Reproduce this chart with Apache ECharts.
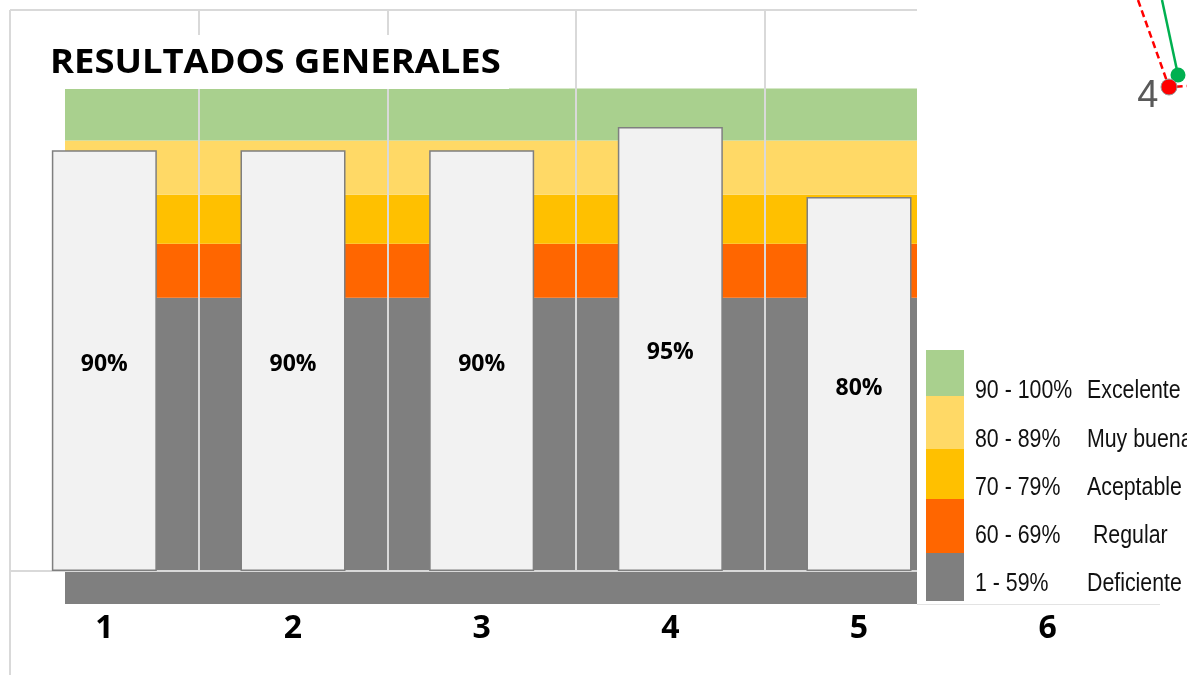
<!DOCTYPE html>
<html><head><meta charset="utf-8">
<script src="https://cdn.jsdelivr.net/npm/echarts@6/dist/echarts.min.js"></script>
<style>html,body{margin:0;padding:0;background:#fff}#c{width:1187px;height:675px}</style>
</head><body><div id="c"></div>
<script>
// ---- data ----
const categories = ['1', '2', '3', '4', '5', '6'];
const scores = [90, 90, 90, 95, 80, null];
const bandNames = ['Deficiente', ' Regular', 'Aceptable', 'Muy buena', 'Excelente'];
const bandRanges = ['1 - 59%', '60 - 69%', '70 - 79%', '80 - 89%', '90 - 100%'];
const bandColors = ['#7f7f7f', '#ff6600', '#ffc000', '#ffd966', '#a9d08e'];
const bandEdges = [-7, 58.5, 70, 80.5, 92.1, 103.2]; // background band limits (% scale)
const titleText = 'RESULTADOS GENERALES';
const strayGreen = [[42, 100], [58, 25]];
const strayRed = [[18, 100], [49, 13], [67, 14]];
const strayLabel = '4';

// ---- layout (legend picture) ----
const legendSeg = [ {y: 553, h: 48}, {y: 499, h: 54}, {y: 449, h: 50}, {y: 396, h: 53}, {y: 350, h: 46} ];
const legendTextY = [584, 536, 488, 440, 391];

const chart = echarts.init(document.getElementById('c'));

const bandSeries = [];
bandSeries.push({ type: 'bar', xAxisIndex: 1, yAxisIndex: 1, stack: 'band', barWidth: '100%', silent: true, z: 2,
  itemStyle: { color: bandColors[0] }, data: [bandEdges[0]] });
bandSeries.push({ type: 'bar', xAxisIndex: 1, yAxisIndex: 1, stack: 'band', barWidth: '100%', silent: true, z: 2,
  itemStyle: { color: bandColors[0] }, data: [bandEdges[1]] });
for (let i = 1; i < bandColors.length; i++) {
  bandSeries.push({ type: 'bar', xAxisIndex: 1, yAxisIndex: 1, stack: 'band', barWidth: '100%', silent: true, z: 2,
    itemStyle: { color: bandColors[i] }, data: [+(bandEdges[i + 1] - bandEdges[i]).toFixed(2)] });
}

const legendFont = '26px "Liberation Sans", Arial, sans-serif';
const graphics = [
  { type: 'line', shape: { x1: 10, y1: 10, x2: 10, y2: 675 }, style: { stroke: '#d9d9d9', lineWidth: 2 }, z: 1 },
  { type: 'line', shape: { x1: 10, y1: 10, x2: 917, y2: 10 }, style: { stroke: '#d9d9d9', lineWidth: 2 }, z: 1 },
  { type: 'rect', shape: { x: 40, y: 35, width: 469, height: 54 }, style: { fill: '#fff' }, z: 5 },
  { type: 'text', x: 50, y: 63, scaleX: 1.07, z: 6,
    style: { text: titleText, fill: '#000', font: 'bold 34px "Open Sans", sans-serif', textVerticalAlign: 'middle' } },
  { type: 'rect', shape: { x: 917, y: 0, width: 270, height: 604 }, style: { fill: '#fff' }, z: 10 },
  { type: 'line', shape: { x1: 917, y1: 604.5, x2: 1160, y2: 604.5 }, style: { stroke: '#e3e3e3', lineWidth: 1 }, z: 11 }
];
legendSeg.forEach((s, i) => {
  graphics.push({ type: 'rect', shape: { x: 926, y: s.y, width: 38, height: s.h }, style: { fill: bandColors[i] }, z: 11 });
  graphics.push({ type: 'text', x: 975, y: legendTextY[i], scaleX: 0.82, style: { text: bandRanges[i], fill: '#111', font: legendFont, textVerticalAlign: 'middle' }, z: 11 });
  graphics.push({ type: 'text', x: 1087, y: legendTextY[i], scaleX: 0.82, style: { text: bandNames[i], fill: '#111', font: legendFont, textVerticalAlign: 'middle' }, z: 11 });
});

chart.setOption({
  animation: false,
  backgroundColor: '#fff',
  grid: [
    { left: 10, right: 45, top: 10, bottom: 104 },
    { left: 65, right: 270, top: 10, bottom: 71 },
    { left: 1120, width: 67, top: 0, height: 100 }
  ],
  xAxis: [
    { gridIndex: 0, type: 'category', data: categories, z: 3,
      axisLine: { show: true, lineStyle: { color: '#d9d9d9', width: 2 } },
      axisTick: { show: false },
      axisLabel: { margin: 42, fontSize: 32, fontWeight: 'bold', color: '#000', fontFamily: 'Open Sans' },
      splitLine: { show: true, lineStyle: { color: '#d9d9d9', width: 2 } } },
    { gridIndex: 1, type: 'category', data: ['b'], show: false },
    { gridIndex: 2, type: 'value', min: 0, max: 67, show: false }
  ],
  yAxis: [
    { gridIndex: 0, type: 'value', min: 0, max: 120, show: false },
    { gridIndex: 1, type: 'value', min: -7, max: 120, show: false },
    { gridIndex: 2, type: 'value', min: 0, max: 100, show: false }
  ],
  series: bandSeries.concat([
    { type: 'bar', xAxisIndex: 0, yAxisIndex: 0, data: scores, barWidth: 105, z: 4,
      itemStyle: { color: '#f2f2f2', borderColor: '#7f7f7f', borderWidth: 1.5 },
      label: { show: true, position: 'inside', offset: [0, 4], formatter: '{c}%', fontSize: 23, fontWeight: 'bold', color: '#000', fontFamily: 'Open Sans' } },
    { type: 'line', xAxisIndex: 2, yAxisIndex: 2, data: strayGreen, z: 20, clip: false,
      lineStyle: { color: '#00b050', width: 2.5 }, itemStyle: { color: '#00b050' },
      symbol: 'circle', symbolSize: (v, p) => p.dataIndex === 1 ? 15 : 0 },
    { type: 'line', xAxisIndex: 2, yAxisIndex: 2, data: strayRed, z: 21, clip: false,
      lineStyle: { color: '#ff0000', width: 2.5, type: [7, 4] },
      itemStyle: { color: '#ff0000', borderColor: '#999', borderWidth: 1 },
      symbol: 'circle', symbolSize: (v, p) => p.dataIndex === 1 ? 16 : 0,
      label: { show: true, position: 'left', distance: 2, offset: [0, 10], fontSize: 38, color: '#595959', fontFamily: 'Liberation Sans',
        formatter: p => p.dataIndex === 1 ? strayLabel : '' } }
  ]),
  graphic: graphics
});
</script></body></html>
